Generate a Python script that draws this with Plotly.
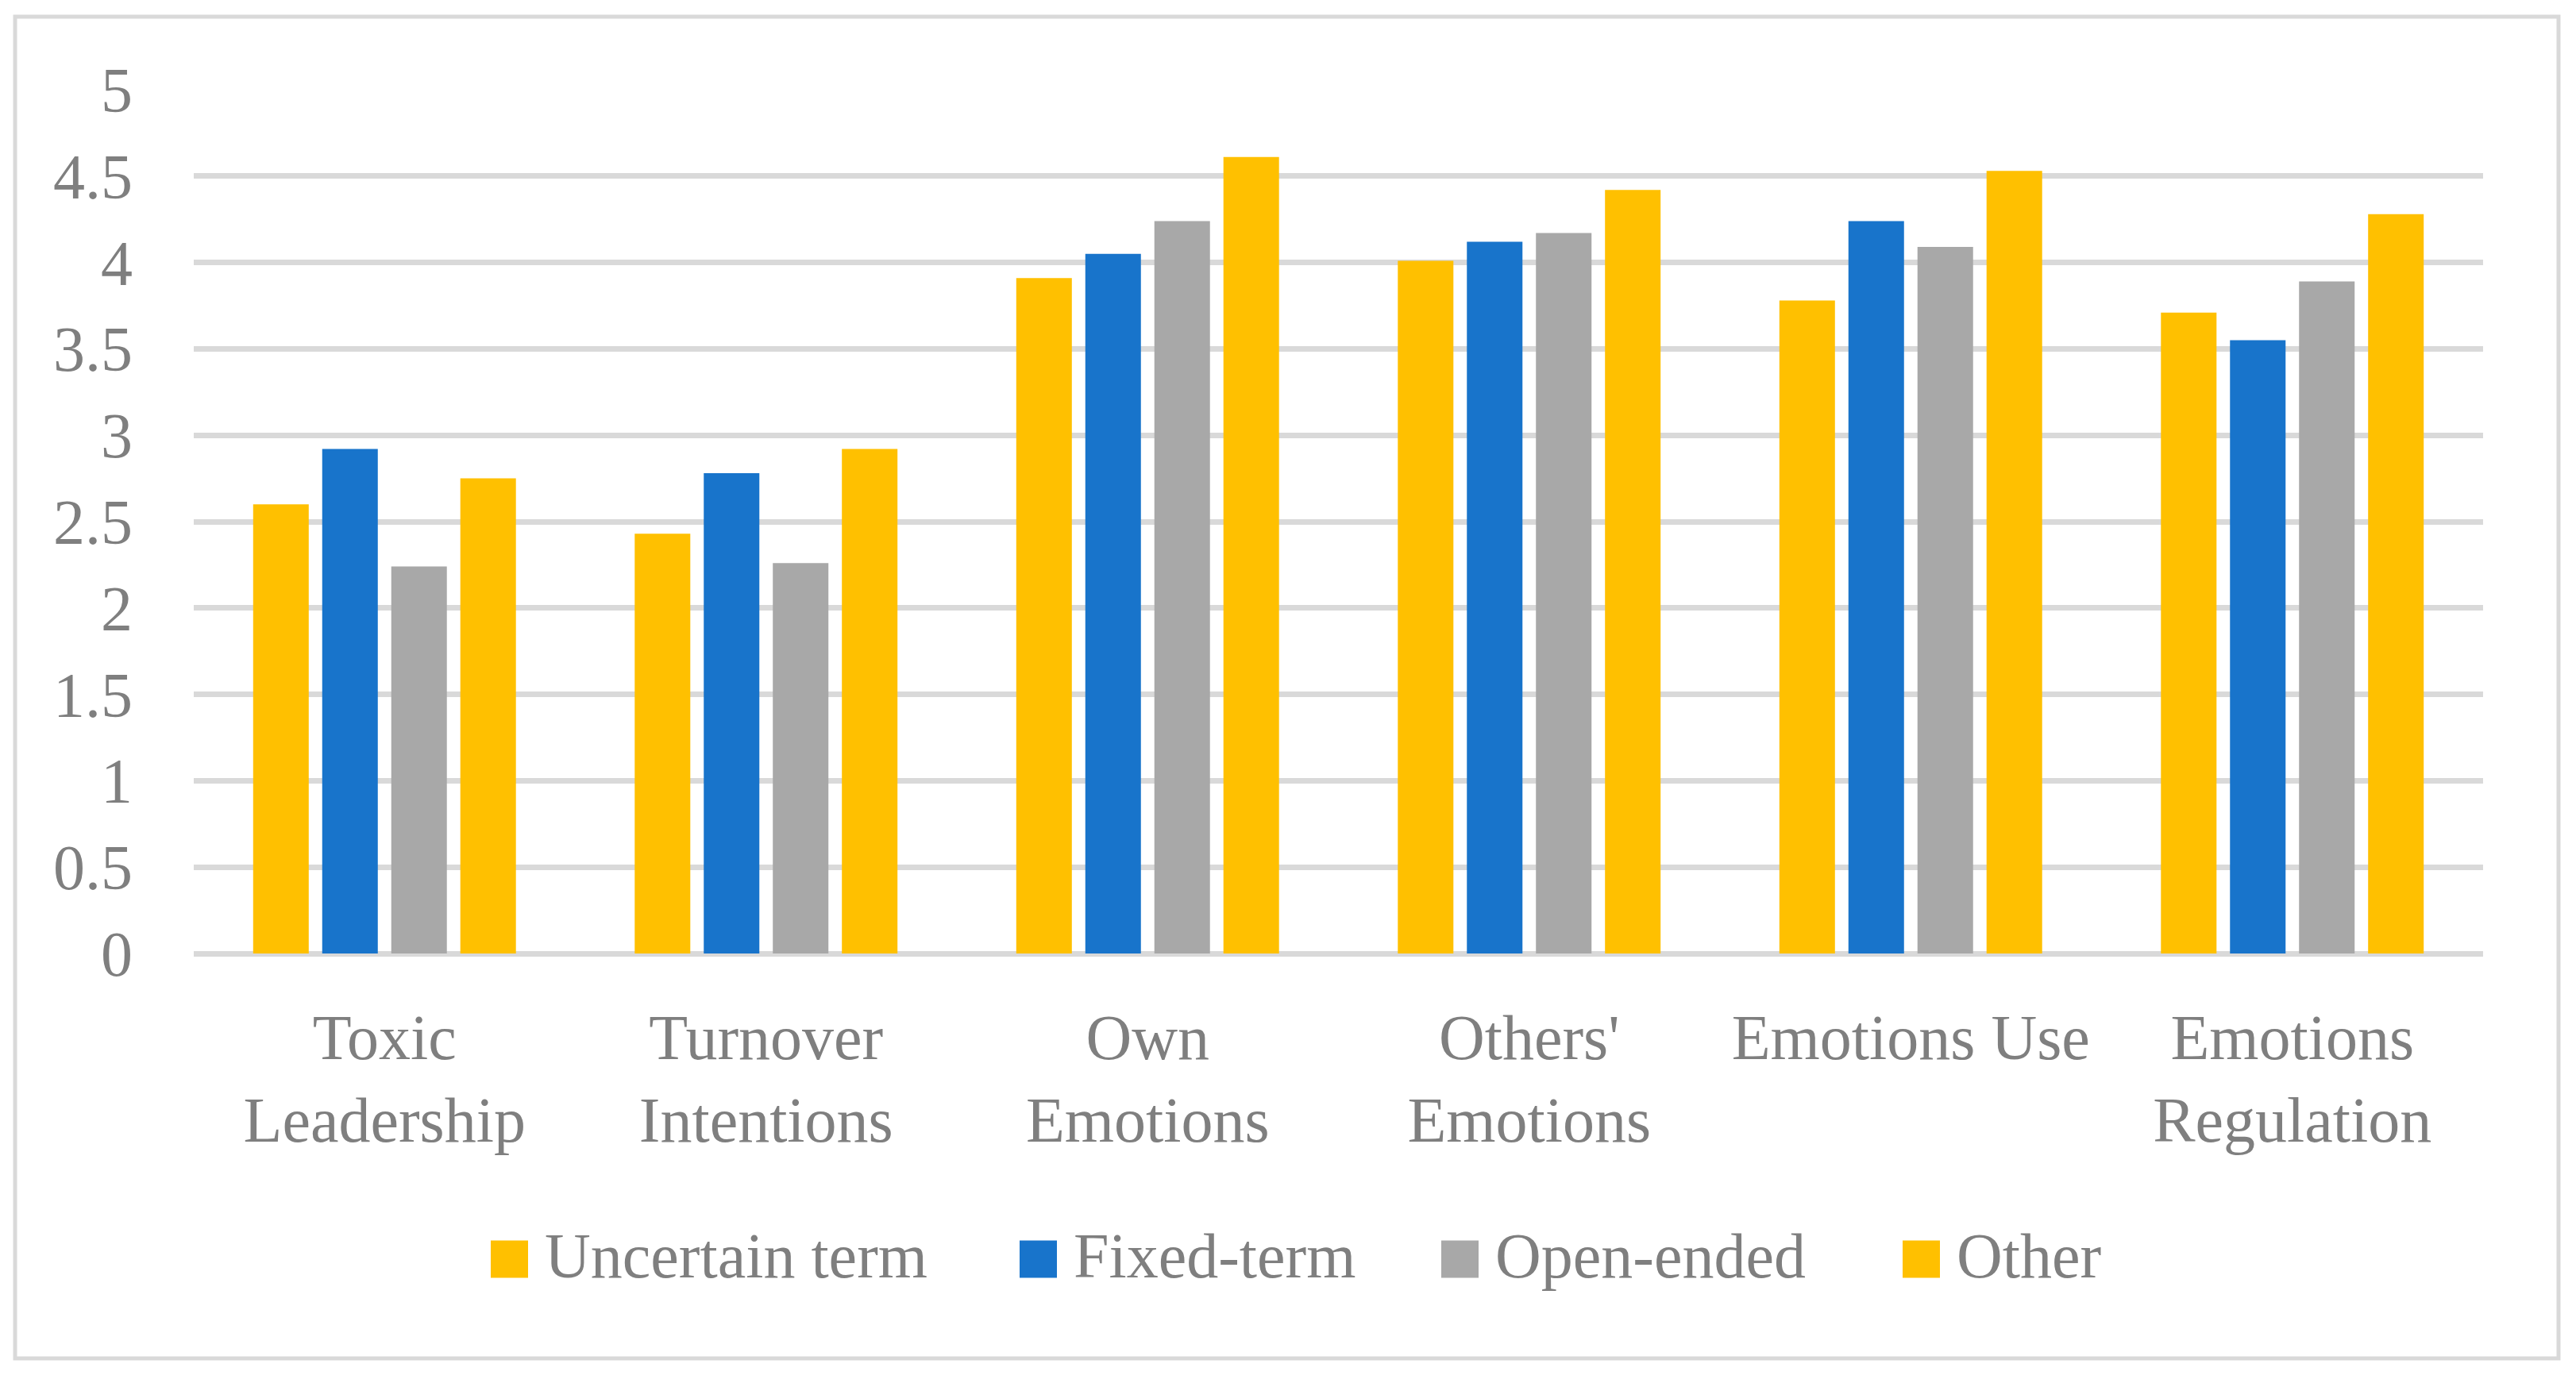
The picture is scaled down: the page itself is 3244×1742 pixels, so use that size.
import plotly.graph_objects as go

categories = ["Toxic<br>Leadership", "Turnover<br>Intentions", "Own<br>Emotions",
              "Others'<br>Emotions", "Emotions Use", "Emotions<br>Regulation"]
series_names = ["Uncertain term", "Fixed-term", "Open-ended", "Other"]
uncertain_term = [2.60, 2.43, 3.91, 4.01, 3.78, 3.71]
fixed_term = [2.92, 2.78, 4.05, 4.12, 4.24, 3.55]
open_ended = [2.24, 2.26, 4.24, 4.17, 4.09, 3.89]
other = [2.75, 2.92, 4.61, 4.42, 4.53, 4.28]
y_ticks = [0, 0.5, 1, 1.5, 2, 2.5, 3, 3.5, 4, 4.5, 5]
y_tick_text = ["0", "0.5", "1", "1.5", "2", "2.5", "3", "3.5", "4", "4.5", "5"]

colors = ["#FFC000", "#1874CB", "#A8A8A8", "#FFC000"]
values = [uncertain_term, fixed_term, open_ended, other]

FONT = "Liberation Serif"
TXT = "#7f7f7f"
GRID = "#d9d9d9"
FS = 80

# page offset (body margin) compensation
OFF = 8
W, H = 3244 - 2 * OFF, 1742 - 2 * OFF
# plot area in page pixels
PX0, PX1, PY0, PY1 = 244, 3127, 113, 1201
L, T = PX0 - OFF, PY0 - OFF
R, B = W - (PX1 - OFF), H - (PY1 - OFF)
PW, PH = PX1 - PX0, PY1 - PY0

fig = go.Figure()
for name, vals, col in zip(series_names, values, colors):
    fig.add_trace(go.Bar(x=categories, y=vals, name=name, marker_color=col,
                         marker_line_width=0, showlegend=False))

def px_x(p):
    return (p - PX0) / PW

def px_y(p):
    return (PY1 - p) / PH

shapes = [dict(type="rect", xref="paper", yref="paper",
               x0=px_x(19), x1=px_x(3222), y0=px_y(1711), y1=px_y(21),
               line=dict(color=GRID, width=5), fillcolor="rgba(0,0,0,0)", layer="below")]
annotations = []
# legend (swatch left edges) in page pixels
legend_swatch_x = [618, 1284, 1815, 2396]
legend_y = 1586
sw = 47
for name, col, sx in zip(series_names, colors, legend_swatch_x):
    shapes.append(dict(type="rect", xref="paper", yref="paper",
                       x0=px_x(sx), x1=px_x(sx + sw),
                       y0=px_y(legend_y + sw / 2), y1=px_y(legend_y - sw / 2),
                       line=dict(width=0), fillcolor=col))
    annotations.append(dict(xref="paper", yref="paper", x=px_x(sx + sw + 19), y=px_y(legend_y - 4),
                            text=name, showarrow=False, xanchor="left", yanchor="middle",
                            font=dict(family=FONT, size=FS, color=TXT)))

fig.update_layout(
    width=W, height=H,
    margin=dict(l=L, r=R, t=T, b=B),
    paper_bgcolor="white", plot_bgcolor="white",
    barmode="group", bargap=0.276, bargroupgap=0.195,
    font=dict(family=FONT, size=FS, color=TXT),
    shapes=shapes, annotations=annotations,
    xaxis=dict(showgrid=False, showline=False, ticks="", zeroline=False,
               tickfont=dict(family=FONT, size=FS, color=TXT),
               ticklabelstandoff=52, fixedrange=True),
    yaxis=dict(range=[0, 5], tickvals=y_ticks, ticktext=y_tick_text,
               showgrid=True, gridcolor=GRID, gridwidth=7,
               zeroline=True, zerolinecolor=GRID, zerolinewidth=7,
               showline=False, ticks="",
               tickfont=dict(family=FONT, size=FS, color=TXT),
               ticklabelstandoff=76, fixedrange=True),
)

fig.write_html("out.html")
